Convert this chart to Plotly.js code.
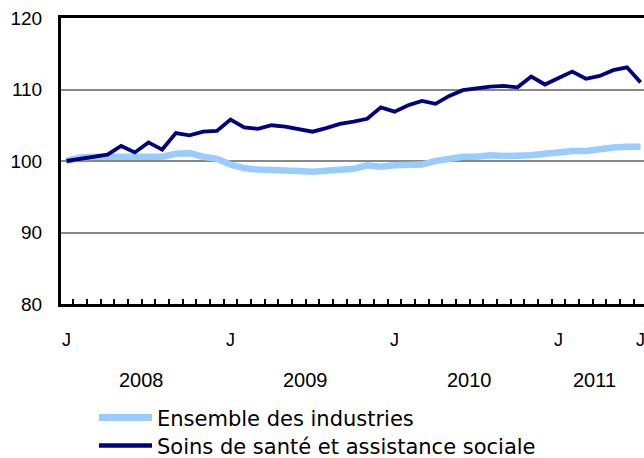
<!DOCTYPE html>
<html>
<head>
<meta charset="utf-8">
<script src="https://cdn.plot.ly/plotly-3.0.1.min.js"></script>
<style>
  html, body { margin: 0; padding: 0; background: #ffffff; }
  #chart { width: 644px; height: 458px; }
</style>
</head>
<body>
<div id="chart"></div>
<script>
// Months: January 2008 to July 2011
const months = [
  '2008-01','2008-02','2008-03','2008-04','2008-05','2008-06','2008-07','2008-08','2008-09','2008-10','2008-11','2008-12',
  '2009-01','2009-02','2009-03','2009-04','2009-05','2009-06','2009-07','2009-08','2009-09','2009-10','2009-11','2009-12',
  '2010-01','2010-02','2010-03','2010-04','2010-05','2010-06','2010-07','2010-08','2010-09','2010-10','2010-11','2010-12',
  '2011-01','2011-02','2011-03','2011-04','2011-05','2011-06','2011-07'
];

// Index (January 2008 = 100)
const ensembleIndustries = [
  100.0, 100.5, 100.6, 100.6, 100.7, 100.7, 100.6, 100.6, 101.0, 101.1, 100.6, 100.3,
  99.5, 99.0, 98.8, 98.8, 98.7, 98.6, 98.5, 98.7, 98.9, 98.9, 99.4, 99.2,
  99.4, 99.5, 99.5, 100.0, 100.3, 100.6, 100.6, 100.8, 100.7, 100.7, 100.8, 101.0,
  101.3, 101.4, 101.4, 101.7, 101.9, 102.0, 102.0
];

const soinsSante = [
  100.0, 100.3, 100.6, 100.9, 102.1, 101.2, 102.6, 101.6, 103.9, 103.6, 104.1, 104.2,
  105.8, 104.7, 104.5, 105.0, 104.8, 104.4, 104.1, 104.6, 105.2, 105.5, 105.9, 107.5,
  106.9, 107.8, 108.4, 108.0, 109.1, 109.9, 110.2, 110.4, 110.5, 110.3, 111.8, 110.7,
  111.6, 112.5, 111.5, 111.9, 112.7, 113.1, 111.0
];

const seriesNames = ['Ensemble des industries', 'Soins de santé et assistance sociale'];
const monthLabels = ['J', 'J', 'J', 'J', 'J'];
const monthLabelAt = ['2008-01', '2009-01', '2010-01', '2011-01', '2011-07'];
const yearLabels = ['2008', '2009', '2010', '2011'];
const yTicks = [80, 90, 100, 110, 120];

const lightBlue = '#99CCFF';
const navy = '#000080';

// Plot-area geometry (pixels) used to convert legend/label positions into paper coordinates
const L = 61, T = 18, PH = 286, PW = 644 - L;
const py = px => (T + PH - px) / PH;
const pxX = px => (px - L) / PW;

const traces = [
  {
    x: months, y: ensembleIndustries, name: seriesNames[0], type: 'scatter', mode: 'lines',
    line: { color: lightBlue, width: 6.5 }, showlegend: false, hoverinfo: 'x+y'
  },
  {
    x: months, y: soinsSante, name: seriesNames[1], type: 'scatter', mode: 'lines',
    line: { color: navy, width: 3.8 }, showlegend: false, hoverinfo: 'x+y'
  }
];

const annotations = [];
monthLabelAt.forEach((m, k) => {
  annotations.push({
    x: months.indexOf(m), xref: 'x', y: py(340), yref: 'paper',
    text: monthLabels[k], showarrow: false, xanchor: 'center', yanchor: 'middle',
    font: { family: 'Liberation Sans, Arial, sans-serif', size: 18, color: '#000' }
  });
});
yearLabels.forEach(yr => {
  const idx = months.map((m, i) => m.startsWith(yr) ? i : -1).filter(i => i >= 0);
  let c = (idx[0] + idx[idx.length - 1]) / 2;
  if (idx.length < 12) c -= 0.35;
  annotations.push({
    x: c, xref: 'x', y: py(380), yref: 'paper',
    text: yr, showarrow: false, xanchor: 'center', yanchor: 'middle',
    font: { family: 'Liberation Sans, Arial, sans-serif', size: 20, color: '#000' }
  });
});

// Manual legend
const legendRows = [
  { name: seriesNames[0], color: lightBlue, width: 7, y: 417.5 },
  { name: seriesNames[1], color: navy, width: 4.5, y: 445.5 }
];
const shapes = [];
legendRows.forEach(r => {
  shapes.push({
    type: 'line', xref: 'paper', yref: 'paper',
    x0: pxX(99), x1: pxX(152), y0: py(r.y), y1: py(r.y),
    line: { color: r.color, width: r.width }
  });
  annotations.push({
    x: pxX(155), xref: 'paper', y: py(r.y + 1), yref: 'paper',
    text: r.name, showarrow: false, xanchor: 'left', yanchor: 'middle',
    font: { family: 'DejaVu Sans, Verdana, sans-serif', size: 21, color: '#000' }
  });
});

const layout = {
  width: 644, height: 458,
  margin: { l: L, r: 0, t: T, b: 458 - T - PH, pad: 0 },
  paper_bgcolor: '#ffffff', plot_bgcolor: '#ffffff',
  showlegend: false,
  xaxis: {
    type: 'category',
    range: [-0.4, -0.4 + PW / 13.67],
    tickmode: 'linear', tick0: 0, dtick: 1,
    tickson: 'boundaries',
    ticks: 'inside', ticklen: 5, tickwidth: 2, tickcolor: '#000',
    showticklabels: false,
    showgrid: false, zeroline: false,
    showline: true, linecolor: '#000', linewidth: 3, mirror: true
  },
  yaxis: {
    range: [80, 120],
    tickmode: 'array', tickvals: yTicks, ticktext: yTicks.map(String),
    ticks: '', ticklabelstandoff: 12,
    tickfont: { family: 'Liberation Sans, Arial, sans-serif', size: 19, color: '#000' },
    showgrid: true, gridcolor: '#888888', gridwidth: 2,
    zeroline: false,
    showline: true, linecolor: '#000', linewidth: 3
  },
  shapes: shapes,
  annotations: annotations
};

Plotly.newPlot('chart', traces, layout, { displayModeBar: false, staticPlot: true });
</script>
</body>
</html>
